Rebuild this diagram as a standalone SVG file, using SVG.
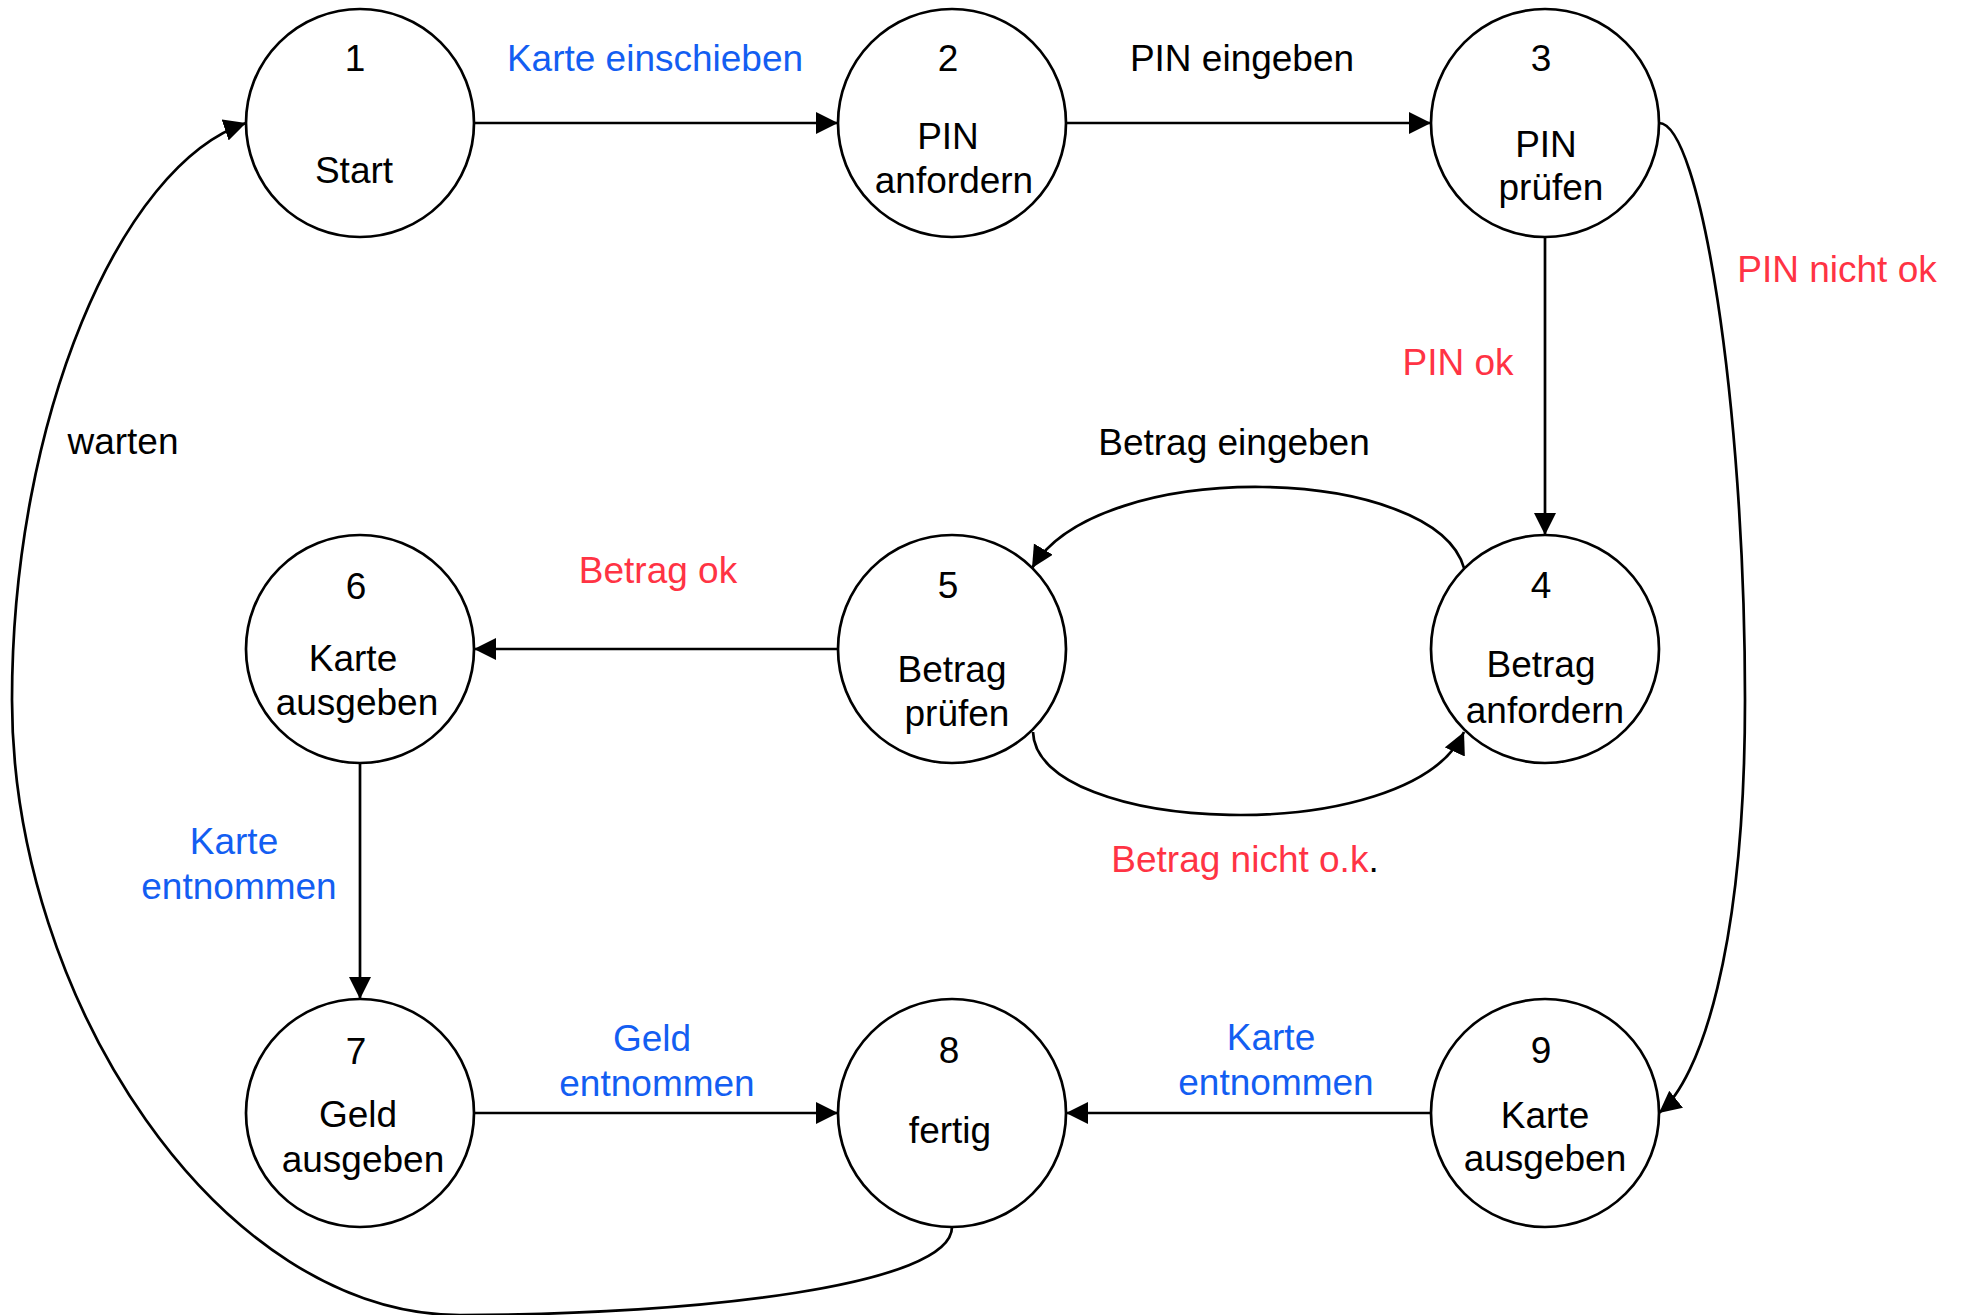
<svg xmlns="http://www.w3.org/2000/svg" width="1961" height="1315" viewBox="0 0 1961 1315">
  <defs>
    <marker id="arrow" markerUnits="userSpaceOnUse" markerWidth="24" markerHeight="24" refX="22" refY="11" orient="auto">
      <path d="M0,0 L22,11 L0,22 Z" fill="#000"/>
    </marker>
    <style>
      .state { fill: #fff; stroke: #000; stroke-width: 2.7; }
      .edge { fill: none; stroke: #000; stroke-width: 2.7; marker-end: url(#arrow); }
      text { font-family: "Liberation Sans", Arial, Helvetica, sans-serif; font-size: 37px; text-anchor: middle; fill: #000; }
      .blue { fill: #135EF2; }
      .red { fill: #FF3344; }
    </style>
  </defs>
  <rect width="1961" height="1315" fill="#fff"/>

  <!-- transitions -->
  <g id="edges">
    <path class="edge" d="M474,123 L838,123"/>
    <path class="edge" d="M1066,123 L1431,123"/>
    <path class="edge" d="M1545,237 L1545,535"/>
    <path class="edge" d="M1659,123 C1700,123 1745,400 1745,700 C1745,950 1700,1080 1659,1113"/>
    <path class="edge" d="M1464,568 C1435,465 1100,455 1032,568"/>
    <path class="edge" d="M1033,732 C1036,835 1410,850 1464,732"/>
    <path class="edge" d="M838,649 L474,649"/>
    <path class="edge" d="M360,763 L360,999"/>
    <path class="edge" d="M474,1113 L838,1113"/>
    <path class="edge" d="M1431,1113 L1066,1113"/>
    <path class="edge" d="M952,1227 C952,1285 700,1315 460,1315 C220,1315 12,1000 12,700 C12,420 120,165 246,123"/>

    <text class="blue" x="655" y="71">Karte einschieben</text>
    <text x="1242" y="71">PIN eingeben</text>
    <text class="red" x="1837" y="282">PIN nicht ok</text>
    <text class="red" x="1458" y="375">PIN ok</text>
    <text x="1234" y="455">Betrag eingeben</text>
    <text x="123" y="454">warten</text>
    <text class="red" x="658" y="583">Betrag ok</text>
    <text x="1245" y="872"><tspan class="red">Betrag nicht o.k</tspan>.</text>
    <text class="blue" x="234" y="854">Karte</text>
    <text class="blue" x="239" y="899">entnommen</text>
    <text class="blue" x="652" y="1051">Geld</text>
    <text class="blue" x="657" y="1096">entnommen</text>
    <text class="blue" x="1271" y="1050">Karte</text>
    <text class="blue" x="1276" y="1095">entnommen</text>
  </g>

  <!-- states -->
  <g id="state1">
    <circle class="state" cx="360" cy="123" r="114"/>
    <text x="355" y="71">1</text>
    <text x="354" y="183">Start</text>
  </g>
  <g id="state2">
    <circle class="state" cx="952" cy="123" r="114"/>
    <text x="948" y="71">2</text>
    <text x="948" y="149">PIN</text>
    <text x="954" y="193">anfordern</text>
  </g>
  <g id="state3">
    <circle class="state" cx="1545" cy="123" r="114"/>
    <text x="1541" y="71">3</text>
    <text x="1546" y="157">PIN</text>
    <text x="1551" y="200">prüfen</text>
  </g>
  <g id="state4">
    <circle class="state" cx="1545" cy="649" r="114"/>
    <text x="1541" y="598">4</text>
    <text x="1541" y="677">Betrag</text>
    <text x="1545" y="723">anfordern</text>
  </g>
  <g id="state5">
    <circle class="state" cx="952" cy="649" r="114"/>
    <text x="948" y="598">5</text>
    <text x="952" y="682">Betrag</text>
    <text x="957" y="726">prüfen</text>
  </g>
  <g id="state6">
    <circle class="state" cx="360" cy="649" r="114"/>
    <text x="356" y="599">6</text>
    <text x="353" y="671">Karte</text>
    <text x="357" y="715">ausgeben</text>
  </g>
  <g id="state7">
    <circle class="state" cx="360" cy="1113" r="114"/>
    <text x="356" y="1064">7</text>
    <text x="358" y="1127">Geld</text>
    <text x="363" y="1172">ausgeben</text>
  </g>
  <g id="state8">
    <circle class="state" cx="952" cy="1113" r="114"/>
    <text x="949" y="1063">8</text>
    <text x="950" y="1143">fertig</text>
  </g>
  <g id="state9">
    <circle class="state" cx="1545" cy="1113" r="114"/>
    <text x="1541" y="1063">9</text>
    <text x="1545" y="1128">Karte</text>
    <text x="1545" y="1171">ausgeben</text>
  </g>
</svg>
